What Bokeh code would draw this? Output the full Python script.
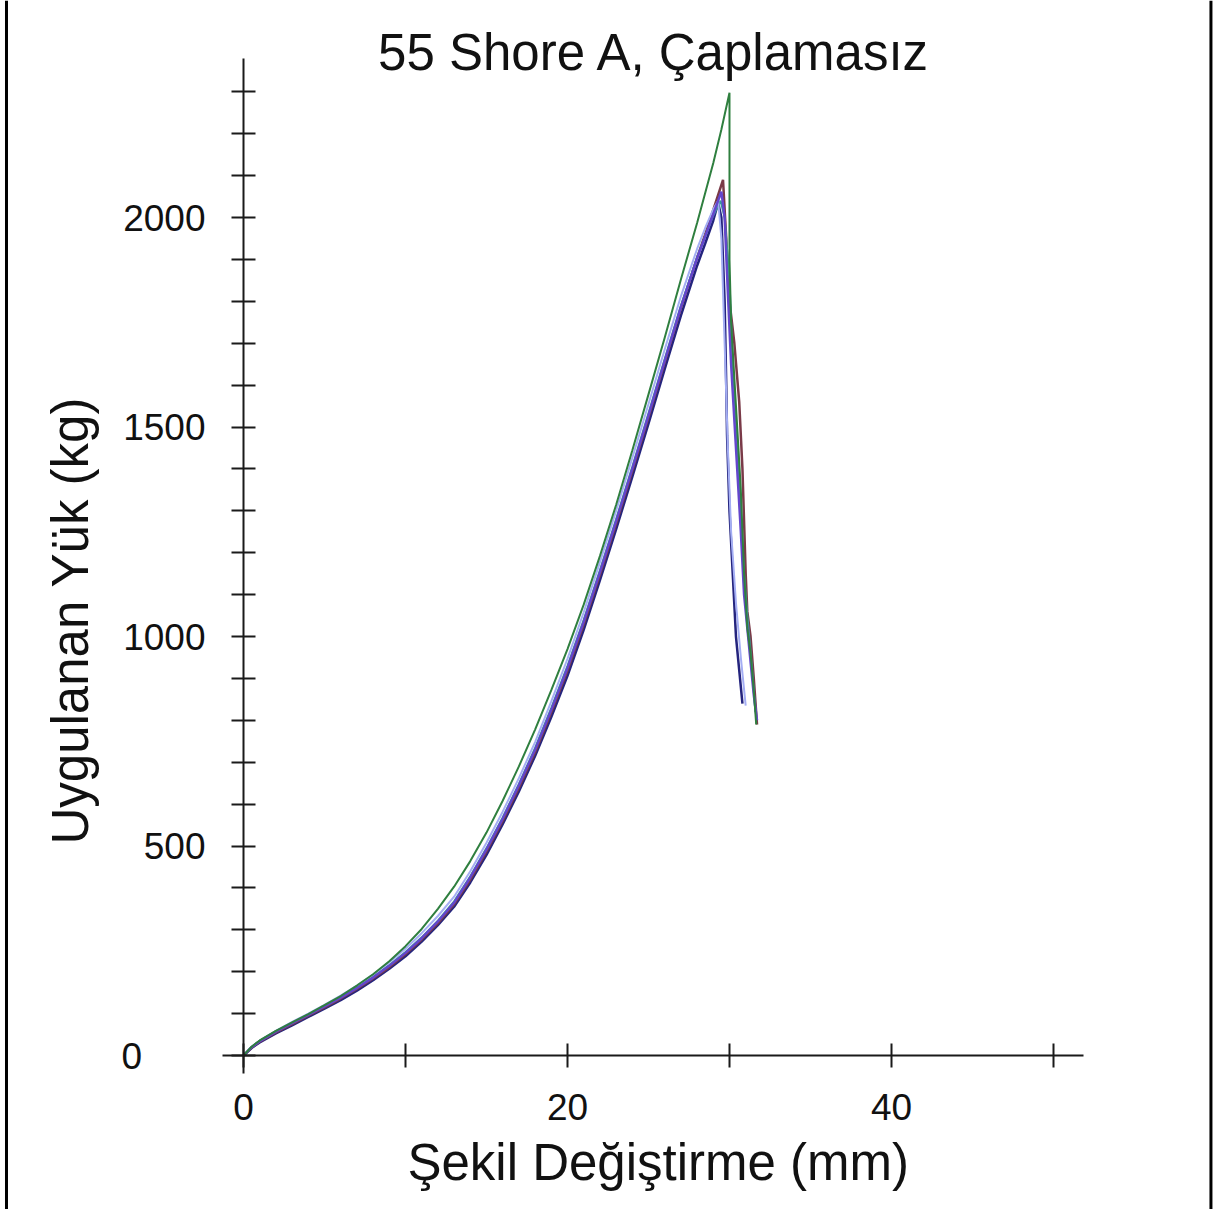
from bokeh.plotting import figure
from bokeh.models import LinearAxis, FixedTicker, Range1d, Label, Span
from bokeh.embed import file_html
from bokeh.resources import INLINE

# ---------------- data ----------------
title_text = "55 Shore A, Çaplamasız"
x_label = "Şekil Değiştirme (mm)"
y_label = "Uygulanan Yük (kg)"

x_major = [0, 20, 40]
x_minor = [10, 30, 50]
y_major = [0, 500, 1000, 1500, 2000]
y_minor = [100, 200, 300, 400, 600, 700, 800, 900, 1100, 1200, 1300, 1400,
           1600, 1700, 1800, 1900, 2100, 2200, 2300]

green_x = [0, 0.5, 1, 2, 3, 4, 5, 6, 7, 8, 9, 10, 11, 12, 13, 14, 15, 16, 17, 18, 19, 20,
           21, 22, 23, 24, 25, 26, 27, 28, 29, 29.5, 30.0,
           30.0, 30.1, 30.4, 30.7, 30.9, 31.1, 31.3, 31.5, 31.65]
green_y = [0, 21, 36, 59, 79, 99, 120, 142, 167, 194, 225, 261, 302, 350, 403, 464, 532, 608, 690, 778, 872, 970,
           1076, 1192, 1314, 1444, 1578, 1713, 1852, 1987, 2130, 2210, 2298,
           1900, 1750, 1550, 1350, 1150, 1020, 960, 870, 790]

navy_x = [0, 0.5, 1, 2, 3, 4, 5, 6, 7, 8, 9, 10, 11, 12, 13, 14, 15, 16, 17, 18, 19, 20,
          21, 22, 23, 24, 25, 26, 27, 28, 28.5, 29, 29.3,
          29.5, 29.7, 29.8, 29.85, 30.0, 30.2, 30.4, 30.6, 30.8]
navy_y = [0, 18, 31, 53, 72, 92, 112, 132, 155, 180, 207, 237, 272, 311, 355, 413, 479, 552, 630, 715, 808, 906,
          1016, 1134, 1256, 1381, 1508, 1638, 1766, 1885, 1938, 1993, 2035,
          2000, 1800, 1600, 1480, 1300, 1150, 1000, 920, 840]

maroon_x = [0, 0.5, 1, 2, 3, 4, 5, 6, 7, 8, 9, 10, 11, 12, 13, 14, 15, 16, 17, 18, 19, 20,
            21, 22, 23, 24, 25, 26, 27, 28, 28.5, 29, 29.6,
            29.8, 30.0, 30.3, 30.6, 30.8, 31.0, 31.1, 31.3, 31.5, 31.7]
maroon_y = [0, 19, 33, 55, 75, 95, 115, 136, 159, 184, 211, 242, 277, 316, 361, 420, 487, 560, 639, 724, 819, 919,
            1029, 1147, 1269, 1395, 1523, 1654, 1784, 1904, 1960, 2018, 2090,
            1950, 1800, 1700, 1560, 1400, 1150, 1060, 1000, 900, 790]

teal_x = [0, 0.5, 1, 2, 3, 4, 5, 6, 7, 8, 9, 10, 11, 12, 13, 14, 15, 16, 17, 18, 19, 20,
          21, 22, 23, 24, 25, 26, 27, 28, 28.5, 29, 29.45,
          29.7, 30.0, 30.2, 30.5, 30.7, 30.9, 31.1, 31.4, 31.6]
teal_y = [0, 20, 35, 58, 78, 98, 118, 140, 163, 188, 216, 247, 282, 322, 368, 428, 495, 568, 648, 734, 830, 930,
          1040, 1158, 1280, 1405, 1533, 1662, 1790, 1905, 1955, 2005, 2040,
          2000, 1850, 1650, 1450, 1300, 1150, 1050, 920, 820]

purple_x = [0, 0.5, 1, 2, 3, 4, 5, 6, 7, 8, 9, 10, 11, 12, 13, 14, 15, 16, 17, 18, 19, 20,
            21, 22, 23, 24, 25, 26, 27, 28, 28.5, 29, 29.5,
            29.7, 29.9, 30.1, 30.4, 30.7, 30.9, 31.2, 31.5, 31.7]
purple_y = [0, 20, 34, 57, 77, 97, 117, 138, 161, 186, 214, 245, 280, 320, 365, 425, 492, 565, 645, 730, 825, 925,
            1035, 1153, 1275, 1400, 1528, 1658, 1786, 1903, 1955, 2008, 2062,
            2000, 1820, 1650, 1450, 1250, 1100, 980, 860, 800]

light_x = [0, 0.5, 1, 2, 3, 4, 5, 6, 7, 8, 9, 10, 11, 12, 13, 14, 15, 16, 17, 18, 19, 20,
           21, 22, 23, 24, 25, 26, 27, 28, 28.5, 29, 29.3,
           29.5, 29.7, 29.9, 30.1, 30.4, 30.7, 31.0]
light_y = [0, 21, 35, 59, 80, 100, 121, 143, 167, 193, 222, 255, 292, 333, 379, 440, 508, 582, 662, 748, 845, 947,
           1058, 1177, 1300, 1426, 1555, 1685, 1812, 1925, 1975, 2020, 2040,
           1950, 1700, 1450, 1250, 1080, 950, 835]

series = [
    (navy_x, navy_y, "#24247e", 2.5),
    (maroon_x, maroon_y, "#7a3a48", 2.5),
    (teal_x, teal_y, "#3a9a9a", 2.0),
    (light_x, light_y, "#a4aef4", 2.0),
    (purple_x, purple_y, "#6446cc", 2.5),
    (green_x, green_y, "#2f7f3f", 2.0),
]

# ---------------- figure ----------------
W, H = 1226, 1209
FONT = "Liberation Sans"

p = figure(width=W, height=H, output_backend="svg", toolbar_location=None,
           x_axis_type=None, y_axis_type=None, min_border=0,
           x_range=Range1d(-15.0, 60.68), y_range=Range1d(-367.5, 2518))
p.outline_line_color = None
p.grid.visible = False
p.background_fill_color = "white"
p.border_fill_color = "white"

for xs, ys, c, w in series:
    p.line(xs, ys, line_color=c, line_width=w)

xaxis = LinearAxis(fixed_location=0, bounds=(-1.3, 51.85),
                   ticker=FixedTicker(ticks=x_major, minor_ticks=x_minor))
yaxis = LinearAxis(fixed_location=0, bounds=(-43, 2380),
                   ticker=FixedTicker(ticks=y_major, minor_ticks=y_minor))
for ax in (xaxis, yaxis):
    ax.axis_line_width = 2
    ax.axis_line_color = "#1a1a1a"
    ax.major_tick_line_width = 2
    ax.minor_tick_line_width = 2
    ax.major_tick_line_color = "#1a1a1a"
    ax.minor_tick_line_color = "#1a1a1a"
    ax.major_tick_in = 12
    ax.major_tick_out = 12
    ax.minor_tick_in = 12
    ax.minor_tick_out = 12
    ax.major_label_text_font = FONT
    ax.major_label_text_font_size = "37px"
    ax.major_label_text_color = "#111111"
xaxis.major_label_standoff = 26
yaxis.major_label_standoff = 26
yaxis.major_label_overrides = {0: ""}
p.add_layout(xaxis, "below")
p.add_layout(yaxis, "left")

# y "0" label sits further left in the reference
p.add_layout(Label(x=-6.9, y=0, text="0", text_align="center", text_baseline="middle",
                   text_font=FONT, text_font_size="37px", text_color="#111111"))

# titles
p.add_layout(Label(x=25.37, y=2395, text=title_text, text_align="center",
                   text_baseline="middle", text_font=FONT, text_font_size="51px",
                   text_color="#111111"))
p.add_layout(Label(x=25.6, y=-255, text=x_label, text_align="center",
                   text_baseline="middle", text_font=FONT, text_font_size="51px",
                   text_color="#111111"))
p.add_layout(Label(x=-10.7, y=1038, text=y_label, text_align="center",
                   text_baseline="middle", angle=1.5707963, text_font=FONT,
                   text_font_size="51px", text_color="#111111"))

# page frame lines at left and right edges
p.add_layout(Span(location=-14.63, dimension="height", line_color="black", line_width=3))
p.add_layout(Span(location=59.72, dimension="height", line_color="black", line_width=3))

open("out.html", "w").write(file_html(p, INLINE))
